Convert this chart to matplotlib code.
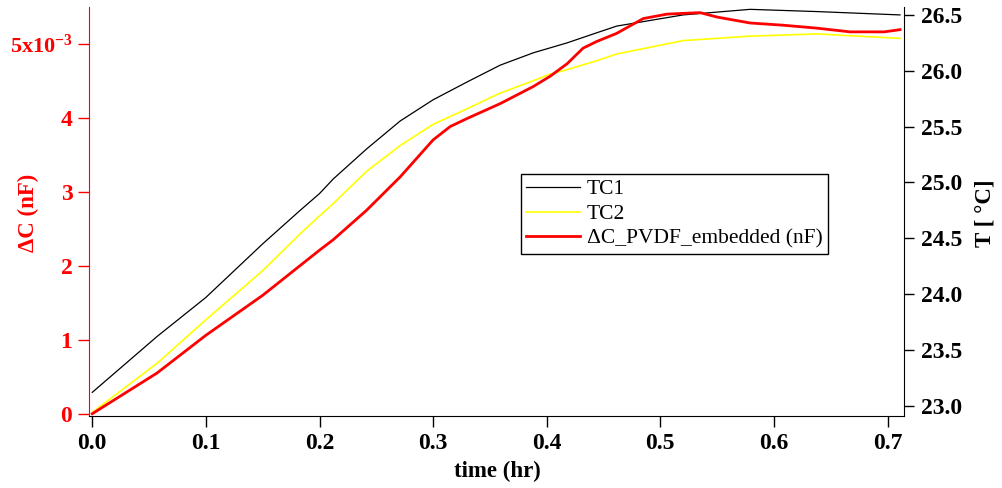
import matplotlib
matplotlib.use("Agg")
import matplotlib.pyplot as plt

plt.rcParams['font.family'] = ['Liberation Serif', 'DejaVu Serif']
plt.rcParams['mathtext.fontset'] = 'custom'
plt.rcParams['mathtext.rm'] = 'Liberation Serif:bold'
plt.rcParams['mathtext.it'] = 'Liberation Serif:bold'
plt.rcParams['mathtext.bf'] = 'Liberation Serif:bold'

# TC1 temperature (right axis, deg C)
t_tc1 = [0.0, 0.057, 0.1, 0.15, 0.183, 0.2, 0.212, 0.2415, 0.271, 0.30, 0.33,
         0.359, 0.388, 0.418, 0.444, 0.4616, 0.52, 0.579, 0.638, 0.711]
tc1 = [23.12, 23.62, 23.97, 24.45, 24.75, 24.90, 25.03, 25.30, 25.55, 25.74, 25.90,
       26.05, 26.16, 26.25, 26.34, 26.40, 26.50, 26.55, 26.53, 26.50]

# TC2 temperature (right axis, deg C)
t_tc2 = [0.0, 0.057, 0.1, 0.15, 0.183, 0.2, 0.212, 0.2415, 0.271, 0.30, 0.33,
         0.359, 0.388, 0.403, 0.418, 0.444, 0.4616, 0.52, 0.579, 0.638, 0.711]
tc2 = [22.94, 23.38, 23.77, 24.21, 24.54, 24.70, 24.81, 25.10, 25.33, 25.52, 25.66,
       25.80, 25.91, 25.97, 26.01, 26.09, 26.15, 26.27, 26.31, 26.33, 26.29]

# delta C of embedded PVDF, in units of 1e-3 nF (left axis)
t_dc = [0.0, 0.057, 0.1, 0.15, 0.2, 0.212, 0.2415, 0.271, 0.30, 0.315, 0.33,
        0.359, 0.388, 0.403, 0.418, 0.432, 0.444, 0.4616, 0.485, 0.506, 0.535,
        0.55, 0.579, 0.608, 0.638, 0.667, 0.697, 0.711]
dc = [0.0, 0.55, 1.06, 1.60, 2.21, 2.35, 2.75, 3.20, 3.70, 3.88, 3.99,
      4.19, 4.42, 4.56, 4.73, 4.94, 5.03, 5.14, 5.34, 5.40, 5.42,
      5.36, 5.28, 5.25, 5.21, 5.16, 5.16, 5.19]

x_ticks = [0.0, 0.1, 0.2, 0.3, 0.4, 0.5, 0.6, 0.7]
dc_ticks = [0, 1, 2, 3, 4, 5]
dc_ticklabels = ['0', '1', '2', '3', '4', '5x10$^{-3}$']
t_ticks = [23.0, 23.5, 24.0, 24.5, 25.0, 25.5, 26.0, 26.5]

fig = plt.figure(figsize=(10.03, 4.88), dpi=100)
ax = fig.add_axes([89 / 1003, 72 / 488, 815 / 1003, 409 / 488])
ax2 = ax.twinx()
# capacitance on top of the temperatures
ax.set_zorder(ax2.get_zorder() + 1)
ax.patch.set_visible(False)

l1, = ax2.plot(t_tc1, tc1, color='black', lw=0.9, label='TC1')
l2, = ax2.plot(t_tc2, tc2, color='#ffff00', lw=1.2, label='TC2')
l3, = ax.plot(t_dc, dc, color='#ff0000', lw=2.0, label='\u0394C_PVDF_embedded (nF)')

ax.set_xlim(-0.0029, 0.7145)
ax.set_ylim(-0.031, 5.496)
ax2.set_ylim(22.908, 26.571)

ax.set_xticks(x_ticks)
ax.set_xticklabels(['%.1f' % v for v in x_ticks])
ax.set_yticks(dc_ticks)
ax.set_yticklabels(dc_ticklabels)
ax2.set_yticks(t_ticks)
ax2.set_yticklabels(['%.1f' % v for v in t_ticks])

for s in ['top', 'right']:
    ax.spines[s].set_visible(False)
for s in ['top', 'left', 'bottom']:
    ax2.spines[s].set_visible(False)
ax.spines['left'].set_color('#ff0000')
ax.spines['bottom'].set_color('black')
ax2.spines['right'].set_color('black')

ax.tick_params(axis='x', direction='out', length=8, width=1, pad=4, labelsize=17)
ax.tick_params(axis='y', direction='out', length=8, width=1, pad=4, labelsize=17,
               color='#ff0000', labelcolor='#ff0000')
ax2.tick_params(axis='y', direction='out', length=7, width=1, pad=5, labelsize=17)
for lab in ax.get_xticklabels() + ax.get_yticklabels() + ax2.get_yticklabels():
    lab.set_fontweight('bold')
ax.get_yticklabels()[-1].set_fontsize(16)

fig.text(497 / 1003, 1 - 471 / 488, 'time (hr)', ha='center', va='center',
         fontsize=16.5, fontweight='bold')
fig.text(28 / 1003, 1 - 213 / 488, '\u0394C (nF)', ha='center', va='center',
         rotation=90, fontsize=16.5, fontweight='bold', color='#ff0000')
fig.text(985 / 1003, 1 - 213 / 488, 'T [ \u00b0C]', ha='center', va='center',
         rotation=90, fontsize=16.5, fontweight='bold')

leg = ax.legend(handles=[l1, l2, l3], loc='upper left', bbox_to_anchor=(0.530, 0.592),
                borderaxespad=0, fancybox=False, edgecolor='black', framealpha=1,
                fontsize=15.5, handlelength=2.5, handletextpad=0.3, labelspacing=0.22,
                borderpad=0.25)
leg.get_frame().set_linewidth(1.0)

fig.savefig('out.png', dpi=100)
